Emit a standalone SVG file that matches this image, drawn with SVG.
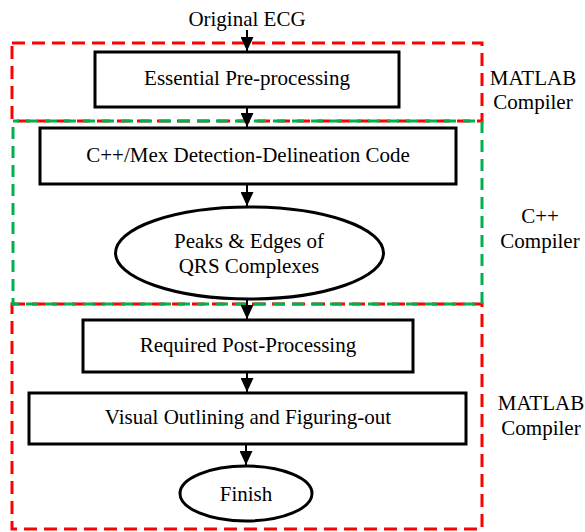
<svg xmlns="http://www.w3.org/2000/svg" width="585" height="532" viewBox="0 0 585 532">
<style>
text{font-family:"Liberation Serif","Times New Roman",serif;font-size:21px;fill:#000;text-anchor:middle}
.node{fill:#fff;stroke:#000;stroke-width:3}
.red{fill:none;stroke:#FF0000;stroke-width:3;stroke-dasharray:13 7}
.green{fill:none;stroke:#00B050;stroke-width:3;stroke-dasharray:12 7;stroke-dashoffset:6}
.conn{stroke:#000;stroke-width:2;fill:none}
</style>
<defs>
<marker id="ah" markerWidth="14" markerHeight="13" refX="14" refY="6.5" orient="auto" markerUnits="userSpaceOnUse">
<path d="M0,0 L14,6.5 L0,13 Z" fill="#000"/>
</marker>
</defs>
<g id="regions">
<rect class="red" x="12" y="43" width="470" height="78"/>
<rect class="red" x="12" y="304" width="470" height="225"/>
<rect class="green" x="13" y="121" width="469" height="183"/>
<text x="533" y="85">MATLAB</text>
<text x="533" y="109">Compiler</text>
<text x="540" y="223">C++</text>
<text x="540" y="248">Compiler</text>
<text x="541" y="410">MATLAB</text>
<text x="541" y="435">Compiler</text>
</g>
<g id="connectors">
<line class="conn" x1="247" y1="30" x2="247" y2="51" marker-end="url(#ah)"/>
<line class="conn" x1="247" y1="108" x2="247" y2="127" marker-end="url(#ah)"/>
<line class="conn" x1="247" y1="185" x2="247" y2="206" marker-end="url(#ah)"/>
<line class="conn" x1="247" y1="300" x2="247" y2="319" marker-end="url(#ah)"/>
<line class="conn" x1="247" y1="373" x2="247" y2="392" marker-end="url(#ah)"/>
<line class="conn" x1="246" y1="445" x2="246" y2="465" marker-end="url(#ah)"/>
</g>
<g id="start">
<text x="247" y="26">Original ECG</text>
</g>
<g id="preprocessing">
<rect class="node" x="95" y="52" width="304" height="55"/>
<text x="247" y="85">Essential Pre-processing</text>
</g>
<g id="detection">
<rect class="node" x="40" y="128" width="416" height="56"/>
<text x="248" y="162">C++/Mex Detection-Delineation Code</text>
</g>
<g id="peaks">
<ellipse class="node" cx="249.5" cy="253" rx="134" ry="46"/>
<text x="249" y="248">Peaks &amp; Edges of</text>
<text x="249" y="273">QRS Complexes</text>
</g>
<g id="postprocessing">
<rect class="node" x="83" y="320" width="330" height="52"/>
<text x="248" y="352">Required Post-Processing</text>
</g>
<g id="visual">
<rect class="node" x="29" y="393" width="437" height="51"/>
<text x="248" y="424">Visual Outlining and Figuring-out</text>
</g>
<g id="finish">
<ellipse class="node" cx="246" cy="493.5" rx="66" ry="27.5"/>
<text x="246" y="501">Finish</text>
</g>
</svg>
